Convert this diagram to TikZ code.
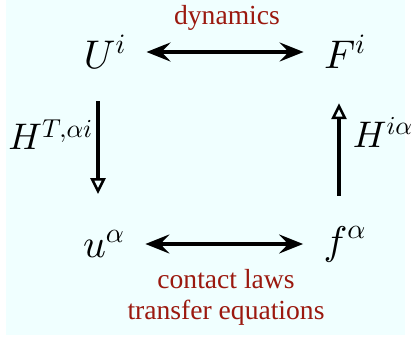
\documentclass[tikz,border=0pt]{standalone}
\usepackage{fontspec}
\setmainfont{Liberation Serif}
\newfontfamily\lawfont{Liberation Serif}
\DeclareFontShape{OML}{cmm}{m}{it}{<-6>cmmi5<6-8>cmmi7<8->cmmi10}{}
\usetikzlibrary{arrows.meta, positioning}
\definecolor{PaleCyan}{RGB}{240,255,255}
\definecolor{LawRed}{RGB}{155,25,15}

\begin{document}
\begin{tikzpicture}[x=0.5pt, y=-0.5pt,
    var/.style={inner sep=0pt, font=\fontsize{20}{24}\selectfont},
    op/.style={inner sep=0pt, font=\fontsize{18.5}{22}\selectfont},
    law/.style={text=LawRed, inner sep=0pt, font=\lawfont\fontsize{13.8}{16}\selectfont},
    both/.style={{Stealth[length=12pt, width=9.5pt, inset=4.5pt]}-{Stealth[length=12pt, width=9.5pt, inset=4.5pt]},
                 line width=1.8pt, shorten <=10pt, shorten >=10pt},
    map/.style={-{Triangle[open, length=8pt, width=7.5pt, line width=1.3pt]}, line width=1.8pt}]
  \useasboundingbox (0,0) rectangle (414,343);
  \fill[PaleCyan] (6,0) rectangle (405,335);

  % the four quantities
  \node[var] (U) at (105,52) {$U^i$};
  \node[var] (F) at (345,52) {$F^i$};
  \node[var] (u) at (104,244) {$u^\alpha$};
  \node[var] (f) at (345,244) {$f^\alpha$};

  % laws between them
  \node[law, anchor=base] (dyn) at (227,24) {dynamics};
  \node[law, anchor=base] (contact) at (226,288) {contact laws};
  \node[law, anchor=base] (transfer) at (226,319) {transfer equations};

  \draw[both] (U) -- (F);
  \draw[both] (u) -- (f);

  \draw[map, shorten <=16pt, shorten >=18pt]
    ([xshift=-3.5pt]U.south) -- node[op, anchor=base east, xshift=-1.5pt] (Ht) {$H^{T,\alpha i}$}
    ([xshift=-3.5pt]U.south |- u.north);
  \draw[map, shorten <=15pt, shorten >=17pt]
    ([xshift=-3pt]F.south |- f.north) -- node[op, anchor=base west, xshift=6pt] (H) {$H^{i\alpha}$}
    ([xshift=-3pt]F.south);
\end{tikzpicture}
\end{document}
